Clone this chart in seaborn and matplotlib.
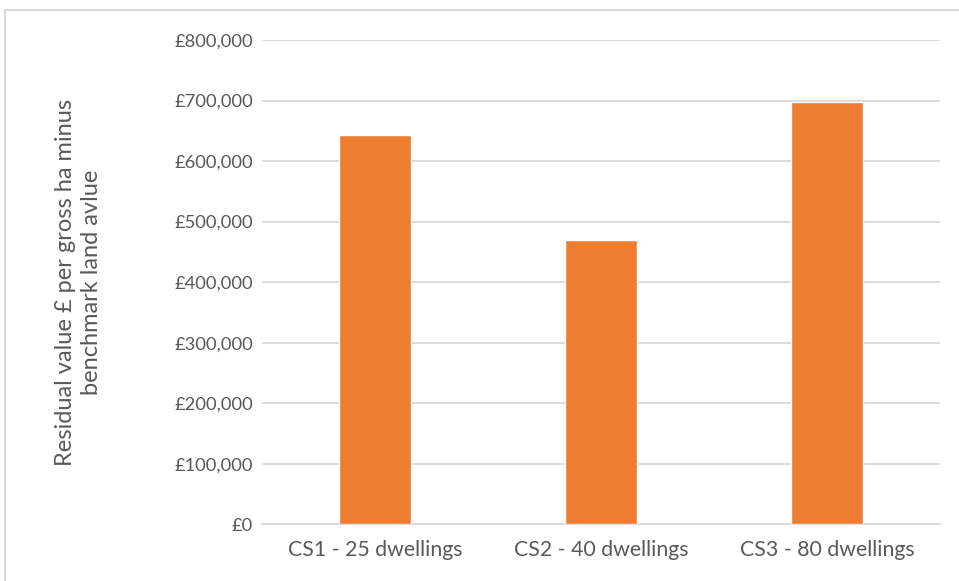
import matplotlib
matplotlib.use("Agg")
import matplotlib.pyplot as plt
import matplotlib.ticker as mticker
from matplotlib.patches import Rectangle
import pandas as pd
import seaborn as sns

categories = ["CS1 - 25 dwellings", "CS2 - 40 dwellings", "CS3 - 80 dwellings"]
residual_values = [643000, 470000, 698000]
y_ticks = [0, 100000, 200000, 300000, 400000, 500000, 600000, 700000, 800000]

df = pd.DataFrame({"Case": categories, "Value": residual_values})

sns.set_style("white")
plt.rcParams["font.family"] = ["Lato", "DejaVu Sans"]

TEXT = "#595959"
GRID = "#d9d9d9"

fig = plt.figure(figsize=(9.59, 5.81), dpi=100)
ax = fig.add_axes([0.2732, 0.0976, 0.7070, 0.8336])

sns.barplot(data=df, x="Case", y="Value", color="#ED7D31", saturation=1,
            width=0.32, ax=ax, zorder=3)

ax.set_ylim(0, 800000)
ax.set_yticks(y_ticks)
ax.yaxis.set_major_formatter(mticker.FuncFormatter(lambda v, p: f"£{v:,.0f}"))
ax.grid(axis="y", color=GRID, linewidth=1.3, zorder=0)
ax.set_axisbelow(True)
for side in ["top", "right", "left"]:
    ax.spines[side].set_visible(False)
ax.spines["bottom"].set_color(GRID)
ax.spines["bottom"].set_linewidth(1.3)
ax.tick_params(axis="both", length=0, colors=TEXT)
ax.tick_params(axis="y", pad=6.5, labelsize=13.2)
ax.tick_params(axis="x", pad=11, labelsize=15.3)
ax.set_xlabel("")
ax.set_ylabel("Residual value £ per gross ha minus\nbenchmark land avlue",
              fontsize=17, color=TEXT, labelpad=52, linespacing=1.3)

# chart frame (extends past the right/bottom edge of the image)
fig.patches.append(Rectangle((0.0057, -0.05), 1.1, 1.0335, transform=fig.transFigure,
                             fill=False, edgecolor=GRID, linewidth=1.5))

fig.savefig("out.png", dpi=100)
